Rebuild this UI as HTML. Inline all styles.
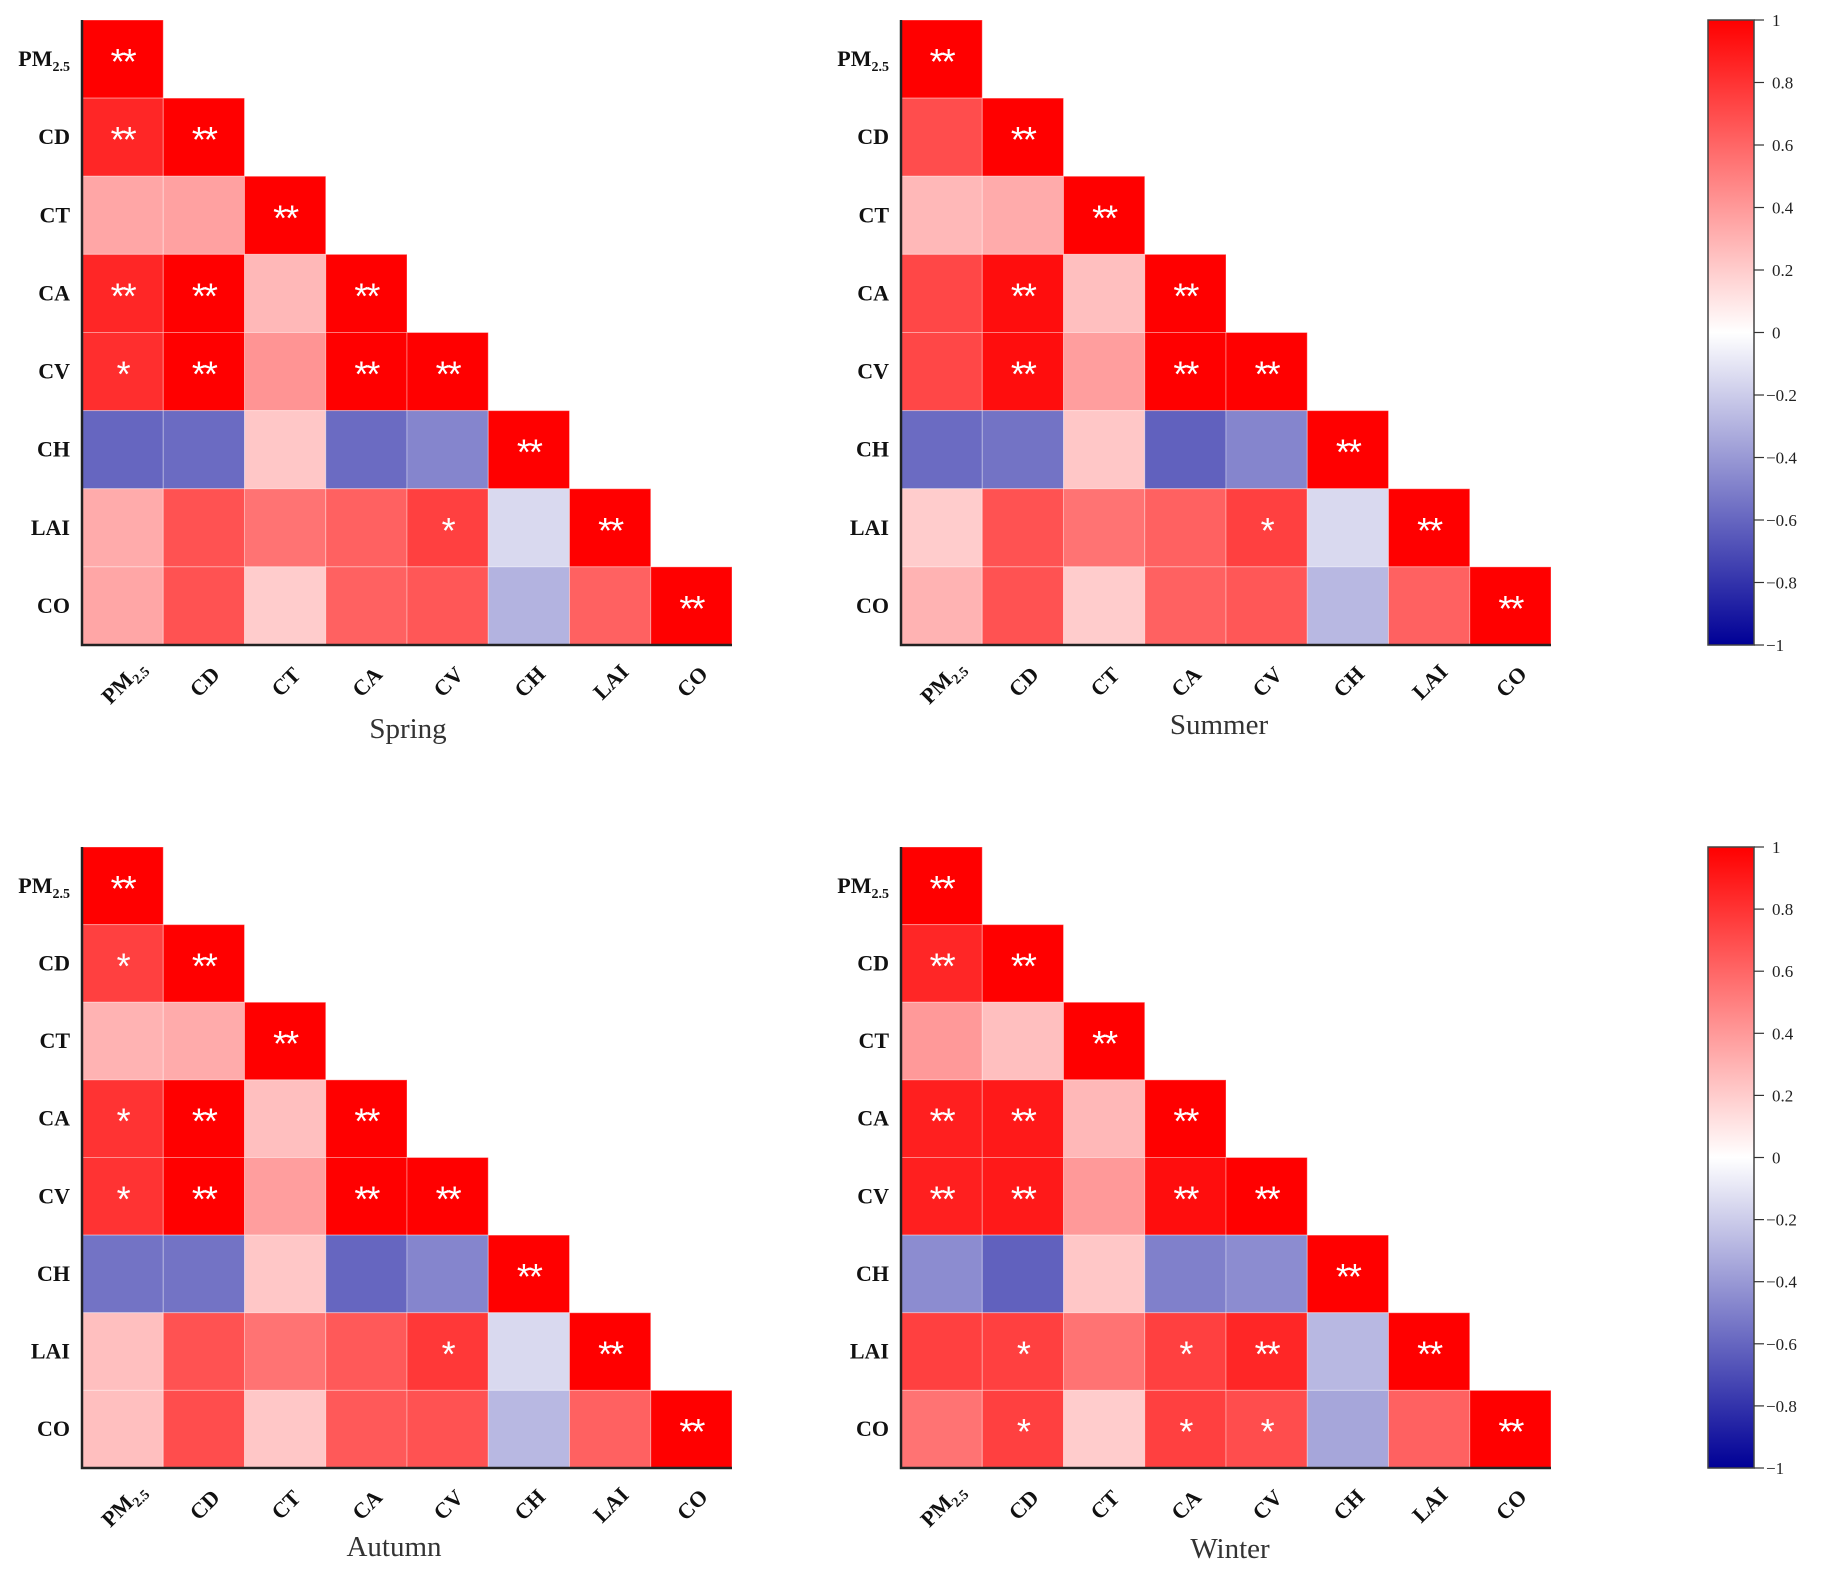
<!DOCTYPE html>
<html><head><meta charset="utf-8"><style>
html,body{margin:0;padding:0;background:#fff;}
svg{display:block;font-family:"Liberation Serif",serif;}
</style></head><body>
<svg id="chart" width="1831" height="1586" viewBox="0 0 1831 1586" xmlns="http://www.w3.org/2000/svg">
<defs>
<linearGradient id="cbg" x1="0" y1="0" x2="0" y2="1">
<stop offset="0" stop-color="rgb(255,0,0)"/>
<stop offset="0.5" stop-color="rgb(255,255,255)"/>
<stop offset="1" stop-color="rgb(0,0,150)"/>
</linearGradient>
</defs>
</svg>
<script>
const variables = ["PM2.5","CD","CT","CA","CV","CH","LAI","CO"];
const seasons = ["Spring","Summer","Autumn","Winter"];
const springValues = [[1],[0.85,1],[0.35,0.37,1],[0.85,1,0.28,1],[0.82,1,0.42,1,1],[-0.6,-0.58,0.22,-0.58,-0.48,1],[0.33,0.68,0.55,0.62,0.75,-0.15,1],[0.35,0.68,0.2,0.62,0.66,-0.3,0.62,1]];
const summerValues = [[1],[0.7,1],[0.28,0.33,1],[0.72,0.95,0.25,1],[0.72,0.95,0.38,1,1],[-0.58,-0.55,0.22,-0.62,-0.48,1],[0.2,0.68,0.55,0.62,0.75,-0.15,1],[0.3,0.68,0.2,0.62,0.66,-0.28,0.62,1]];
const autumnValues = [[1],[0.75,1],[0.3,0.33,1],[0.8,1,0.25,1],[0.8,1,0.38,1,1],[-0.55,-0.55,0.22,-0.6,-0.48,1],[0.25,0.68,0.55,0.65,0.78,-0.15,1],[0.25,0.7,0.22,0.65,0.68,-0.28,0.62,1]];
const winterValues = [[1],[0.85,1],[0.4,0.25,1],[0.88,0.9,0.28,1],[0.88,0.9,0.4,0.95,1],[-0.45,-0.62,0.22,-0.5,-0.45,1],[0.75,0.75,0.55,0.75,0.85,-0.28,1],[0.55,0.75,0.2,0.75,0.7,-0.35,0.62,1]];
const springStars = [["**"],["**","**"],["","","**"],["**","**","","**"],["*","**","","**","**"],["","","","","","**"],["","","","","*","","**"],["","","","","","","","**"]];
const summerStars = [["**"],["","**"],["","","**"],["","**","","**"],["","**","","**","**"],["","","","","","**"],["","","","","*","","**"],["","","","","","","","**"]];
const autumnStars = [["**"],["*","**"],["","","**"],["*","**","","**"],["*","**","","**","**"],["","","","","","**"],["","","","","*","","**"],["","","","","","","","**"]];
const winterStars = [["**"],["**","**"],["","","**"],["**","**","","**"],["**","**","","**","**"],["","","","","","**"],["","*","","*","**","","**"],["","*","","*","*","","","**"]];
const colorbarTicks = [1,0.8,0.6,0.4,0.2,0,-0.2,-0.4,-0.6,-0.8,-1];

const NS="http://www.w3.org/2000/svg";
const svg=document.getElementById('chart');
function mk(tag,attrs,parent){const e=document.createElementNS(NS,tag);for(const k in attrs)e.setAttribute(k,attrs[k]);(parent||svg).appendChild(e);return e;}
function color(v){
  if(v>=0){const g=Math.round(255*(1-v));return `rgb(255,${g},${g})`;}
  const t=-v;const rg=Math.round(255*(1-t));const b=Math.round(255-105*t);return `rgb(${rg},${rg},${b})`;
}
const panels=[
 {x:82,y:20,w:650,h:625,vals:springValues,stars:springStars,title:[408,738]},
 {x:901,y:20,w:650,h:625,vals:summerValues,stars:summerStars,title:[1219,734]},
 {x:82,y:847,w:650,h:621,vals:autumnValues,stars:autumnStars,title:[394,1556]},
 {x:901,y:847,w:650,h:621,vals:winterValues,stars:winterStars,title:[1230,1558]}
];
panels.forEach((p,pi)=>{
  const g=mk('g',{});
  
  
  const cw=p.w/variables.length, ch=p.h/variables.length;
  const xs=i=>p.x+i*cw, ys=j=>p.y+j*ch;
  p.vals.forEach((row,j)=>{
    row.forEach((v,i)=>{
      const r=mk('rect',{x:xs(i),y:ys(j),width:cw,height:ch,fill:color(v),stroke:'rgba(255,255,255,0.35)','stroke-width':1},g);
      
      
      const s=p.stars[j][i];
      if(s){
        const t=mk('text',{x:xs(i)+cw/2,y:ys(j)+ch/2+15,'text-anchor':'middle','font-size':36,fill:'#fff','font-family':'"Liberation Sans",sans-serif','letter-spacing':'-2'},g);
        t.textContent=s;
        
        
      }
    });
  });
  const ax=mk('path',{d:`M${p.x},${p.y} V${p.y+p.h} H${p.x+p.w}`,fill:'none',stroke:'#222','stroke-width':2.5},g);
  
  
  variables.forEach((n,j)=>{
    const t=mk('text',{x:p.x-12,y:ys(j)+ch/2+7,'text-anchor':'end','font-size':22,'font-weight':'bold',fill:'#111'},g);
    
    
    if(n==="PM2.5"){t.textContent='PM';const sb=mk('tspan',{'font-size':14,dy:5},t);sb.textContent='2.5';}
    else t.textContent=n;
    const cx=xs(j)+cw/2+6, cy=p.y+p.h+42;
    const xt=mk('text',{x:cx,y:cy,'text-anchor':'middle','font-size':22,'font-weight':'bold',fill:'#111',transform:`rotate(-45 ${cx} ${cy})`},g);
    
    
    if(n==="PM2.5"){xt.textContent='PM';const sb=mk('tspan',{'font-size':14,dy:5},xt);sb.textContent='2.5';}
    else xt.textContent=n;
  });
  const tt=mk('text',{x:p.title[0],y:p.title[1],'text-anchor':'middle','font-size':29,fill:'#333'},g);
  tt.textContent=seasons[pi];
  
  
});
[[20,645],[847,1468]].forEach((yy,ci)=>{
  const g=mk('g',{});
  
  
  const x=1708,w=46,y0=yy[0],y1=yy[1];
  mk('rect',{x:x,y:y0,width:w,height:y1-y0,fill:'url(#cbg)',stroke:'#444','stroke-width':1.5},g);
  const sy=v=>y0+(1-v)/2*(y1-y0);
  colorbarTicks.forEach(v=>{
    const y=sy(v);
    mk('line',{x1:x+w,x2:x+w+10,y1:y,y2:y,stroke:'#333','stroke-width':1.2},g);
    const t=mk('text',{x:x+w+(v<0?12:18),y:y+6,'font-size':17,fill:'#222'},g);
    t.textContent=v<0?'\u2212'+String(-v):String(v);
    
    
  });
});
</script>
</body></html>
